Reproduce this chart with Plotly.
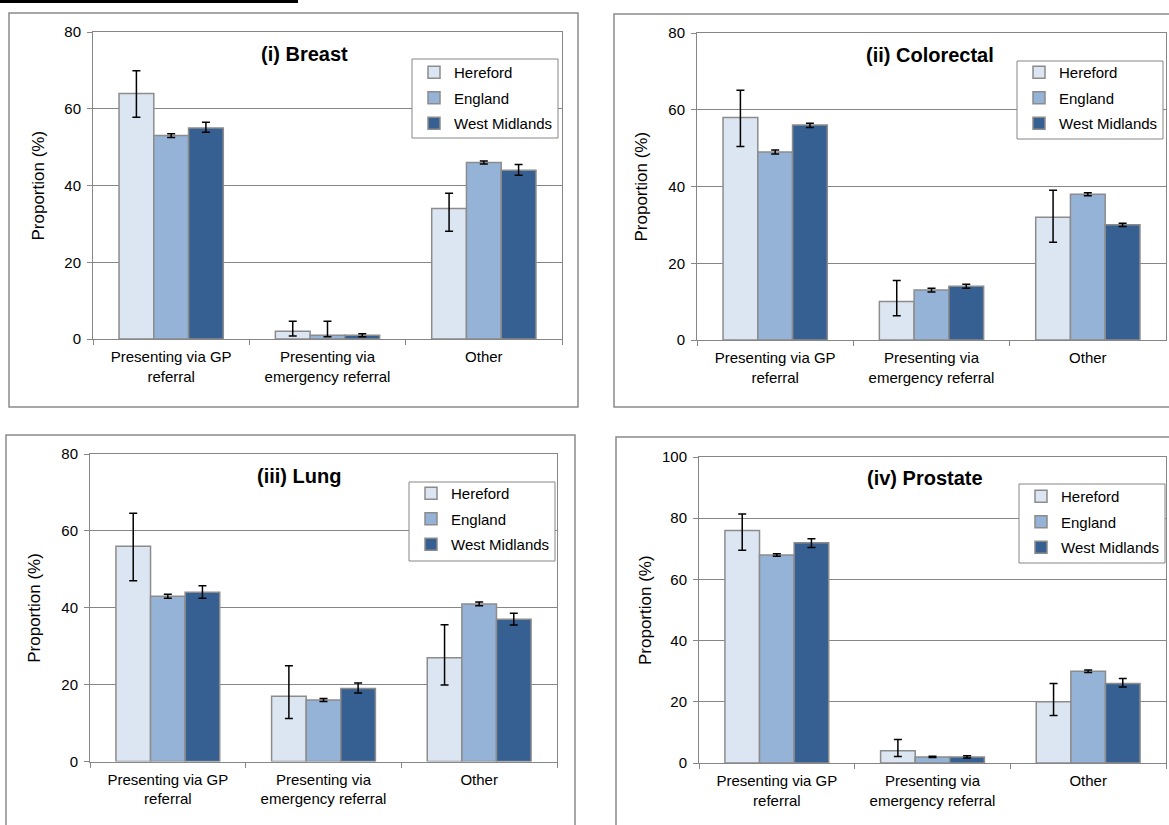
import plotly.graph_objects as go

W, H = 1169, 825

categories = ["Presenting via GP<br>referral", "Presenting via<br>emergency referral", "Other"]
series = ["Hereford", "England", "West Midlands"]
colors = ["#DCE6F2", "#95B3D7", "#376092"]

# values per series (rows: Hereford, England, West Midlands; cols: categories)
breast_values = [[64, 2, 34], [53, 1, 46], [55, 1, 44]]
breast_upper = [[69.9, 4.6, 38.0], [53.5, 4.6, 46.4], [56.5, 1.4, 45.5]]
breast_lower = [[57.8, 0.8, 28.1], [52.5, 0.6, 45.6], [53.9, 0.6, 42.7]]

colorectal_values = [[58, 10, 32], [49, 13, 38], [56, 14, 30]]
colorectal_upper = [[65.1, 15.5, 39.0], [49.5, 13.5, 38.4], [56.5, 14.5, 30.4]]
colorectal_lower = [[50.4, 6.3, 25.5], [48.5, 12.5, 37.6], [55.4, 13.5, 29.6]]

lung_values = [[56, 17, 27], [43, 16, 41], [44, 19, 37]]
lung_upper = [[64.6, 24.9, 35.6], [43.5, 16.4, 41.5], [45.7, 20.4, 38.6]]
lung_lower = [[47.0, 11.2, 19.9], [42.5, 15.6, 40.5], [42.5, 17.8, 35.5]]

prostate_values = [[76, 4, 20], [68, 2, 30], [72, 2, 26]]
prostate_upper = [[81.4, 7.7, 26.0], [68.4, 2.2, 30.4], [73.3, 2.4, 27.6]]
prostate_lower = [[69.5, 2.1, 15.5], [67.6, 1.8, 29.6], [70.4, 1.6, 24.8]]

titles = ["(i) Breast", "(ii) Colorectal", "(iii) Lung", "(iv) Prostate"]
y_max = [80, 80, 80, 100]


def px(x):
    return x / W


def py(y):
    return 1 - y / H


panels = [
    dict(vals=breast_values, hi=breast_upper, lo=breast_lower,
         xd=(93, 562), yd=(32, 339), box=(9, 13, 578, 407),
         title_xy=(304, 54), ytitle_x=38, legend_xy=(558, 56), legbox=(59, 138)),
    dict(vals=colorectal_values, hi=colorectal_upper, lo=colorectal_lower,
         xd=(697, 1166), yd=(33, 340), box=(614, 14, 1180, 407),
         title_xy=(930, 55), ytitle_x=641, legend_xy=(1163, 56), legbox=(61, 139)),
    dict(vals=lung_values, hi=lung_upper, lo=lung_lower,
         xd=(90, 557), yd=(454, 761.5), box=(6, 435, 575, 835),
         title_xy=(299, 476), ytitle_x=35, legend_xy=(555, 477), legbox=(482, 561)),
    dict(vals=prostate_values, hi=prostate_upper, lo=prostate_lower,
         xd=(699, 1166), yd=(457, 763), box=(616, 437, 1180, 835),
         title_xy=(925, 478), ytitle_x=645, legend_xy=(1165, 480), legbox=(484, 563)),
]

FONT = "Liberation Sans, Arial, sans-serif"
AXC = "#868686"
LEG_W = 146

fig = go.Figure()
layout = dict(
    width=W, height=H, margin=dict(l=0, r=0, t=0, b=0, autoexpand=False),
    paper_bgcolor="white", plot_bgcolor="white",
    barmode="group", bargap=0.333, bargroupgap=0,
    font=dict(family=FONT, size=14, color="black"),
    showlegend=True,
)
shapes = []
annotations = []

for i, p in enumerate(panels):
    n = i + 1
    sfx = "" if n == 1 else str(n)
    legname = "legend" + sfx
    for j, s in enumerate(series):
        v = p["vals"][j]
        up = [h - a for h, a in zip(p["hi"][j], v)]
        dn = [a - l for a, l in zip(v, p["lo"][j])]
        fig.add_trace(go.Bar(
            x=categories, y=v, name=s,
            marker=dict(color=colors[j], line=dict(color="#8C8C8C", width=1.5)),
            error_y=dict(type="data", symmetric=False, array=up, arrayminus=dn,
                         color="black", thickness=1.5, width=4),
            xaxis="x" + sfx, yaxis="y" + sfx,
            legend=legname, legendgroup=f"p{n}s{j}",
            hoverinfo="skip",
        ))
    layout["xaxis" + sfx] = dict(
        domain=[px(p["xd"][0]), px(p["xd"][1])], anchor="y" + sfx,
        showline=True, linecolor=AXC, linewidth=1, mirror=True,
        ticks="outside", tickson="boundaries", ticklen=5, tickcolor=AXC,
        ticklabelstandoff=4, automargin=False,
        showgrid=False, tickfont=dict(size=15, color="black"), fixedrange=True,
    )
    layout["yaxis" + sfx] = dict(
        domain=[py(p["yd"][1]), py(p["yd"][0])], anchor="x" + sfx,
        range=[0, y_max[i]], dtick=20, automargin=False,
        showline=True, linecolor=AXC, linewidth=1, mirror=True,
        ticks="outside", ticklen=5, tickcolor=AXC, ticklabelstandoff=3,
        showgrid=True, gridcolor=AXC, gridwidth=1, zeroline=False,
        tickfont=dict(size=15, color="black"), fixedrange=True,
    )
    layout[legname] = dict(
        x=px(p["legend_xy"][0]), y=py(p["legend_xy"][1]),
        xanchor="right", yanchor="top",
        bgcolor="rgba(0,0,0,0)", borderwidth=0,
        font=dict(size=15, color="black"), traceorder="grouped",
        tracegroupgap=3, itemwidth=30,
    )
    # legend frame
    lx1 = p["legend_xy"][0]
    shapes.append(dict(type="rect", xref="paper", yref="paper",
                       x0=px(lx1 - LEG_W), x1=px(lx1),
                       y0=py(p["legbox"][1]), y1=py(p["legbox"][0]),
                       line=dict(color=AXC, width=1), fillcolor="white", layer="above"))
    bx = p["box"]
    shapes.append(dict(type="rect", xref="paper", yref="paper",
                       x0=px(bx[0]), x1=px(bx[2]), y0=py(bx[3]), y1=py(bx[1]),
                       line=dict(color="#8A8A8A", width=1.5), layer="below"))
    annotations.append(dict(text="<b>" + titles[i] + "</b>", xref="paper", yref="paper",
                            x=px(p["title_xy"][0]), y=py(p["title_xy"][1]),
                            xanchor="center", yanchor="middle", showarrow=False,
                            font=dict(size=20, color="black")))
    annotations.append(dict(text="Proportion (%)", xref="paper", yref="paper",
                            x=px(p["ytitle_x"]), y=py((p["yd"][0] + p["yd"][1]) / 2),
                            xanchor="center", yanchor="middle", showarrow=False,
                            textangle=-90, font=dict(size=17, color="black")))

# cut-off underlined heading at the very top
shapes.append(dict(type="line", xref="paper", yref="paper",
                   x0=0, x1=px(298), y0=py(1.5), y1=py(1.5),
                   line=dict(width=3, color="black")))

layout["shapes"] = shapes
layout["annotations"] = annotations
fig.update_layout(**layout)
fig.write_html("out.html")
